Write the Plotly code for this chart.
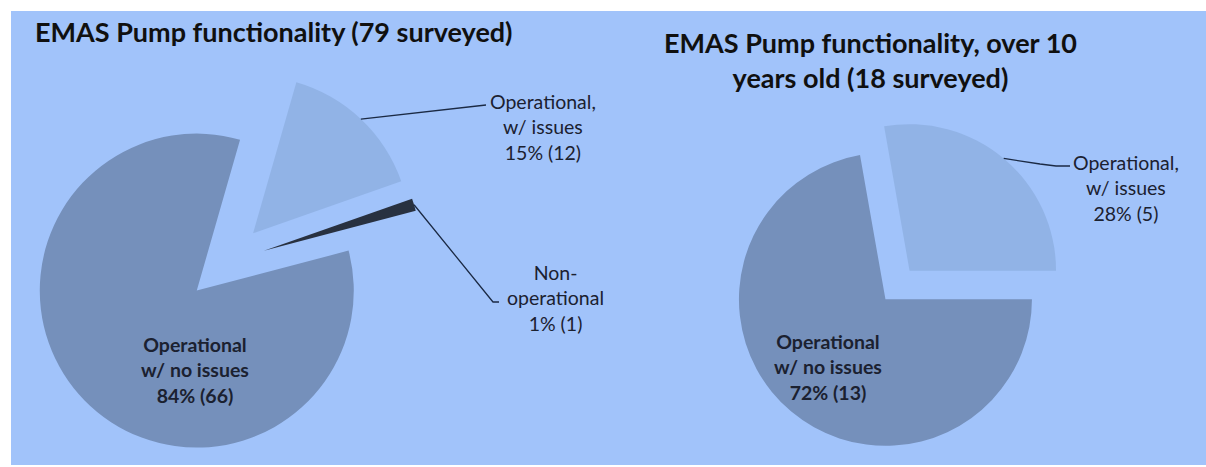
import math
import plotly.graph_objects as go

W, H = 1206, 467

# left chart - all pumps surveyed
left_title = "EMAS Pump functionality (79 surveyed)"
left_labels = ["Operational,<br>w/ issues", "Non-<br>operational", "Operational<br>w/ no issues"]
left_counts = [12, 1, 66]
left_colors = ["#91b3e6", "#283140", "#7590bb"]

# right chart - pumps over 10 years old
right_title = "EMAS Pump functionality, over 10<br>years old (18 surveyed)"
right_labels = ["Operational,<br>w/ issues", "Operational<br>w/ no issues"]
right_counts = [5, 13]
right_colors = ["#91b3e6", "#7590bb"]

BG = "#a1c3fa"
TXT = "#1b2130"
FONT = "Lato"

# pixel layout of each pie: centre, radius, explode fraction, start angle
left_geo = dict(cx=225.5, cy=262.5, r=157, pull=0.256, rot=16)
right_geo = dict(cx=897.5, cy=285, r=146.5, pull=0.128, rot=-10)


def domain_for(g):
    half = g["r"] * (1 + g["pull"])
    return dict(x=[(g["cx"] - half) / W, (g["cx"] + half) / W],
                y=[1 - (g["cy"] + half) / H, 1 - (g["cy"] - half) / H])


def arc_mid(g, counts, i):
    # point on the outer arc at the middle of slice i (pixels)
    total = sum(counts)
    frac = (sum(counts[:i]) + counts[i] / 2) / total
    a = math.radians(g["rot"] + 360 * frac)
    k = g["r"] * (1 + g["pull"])
    return g["cx"] + k * math.sin(a), g["cy"] - k * math.cos(a)


def px(x, y):
    return x / W, 1 - y / H


def label_text(lab, n, counts):
    pct = round(100 * n / sum(counts))
    return "%s<br>%d%% (%d)" % (lab, pct, n)


fig = go.Figure()
fig.add_trace(go.Pie(labels=left_labels, values=left_counts, sort=False,
                     direction="clockwise", rotation=left_geo["rot"],
                     pull=[left_geo["pull"]] * len(left_counts),
                     marker=dict(colors=left_colors, line=dict(width=0)),
                     textinfo="none", hoverinfo="none", domain=domain_for(left_geo)))
fig.add_trace(go.Pie(labels=right_labels, values=right_counts, sort=False,
                     direction="clockwise", rotation=right_geo["rot"],
                     pull=[right_geo["pull"]] * len(right_counts),
                     marker=dict(colors=right_colors, line=dict(width=0)),
                     textinfo="none", hoverinfo="none", domain=domain_for(right_geo)))

# white frame on the top, left and bottom edges of the picture
shapes = []
for x0, x1, y0, y1 in [(0, 1, 1 - 11 / H, 1), (0, 11 / W, 0, 1), (0, 1, 0, 1 - 465 / H)]:
    shapes.append(dict(type="rect", xref="paper", yref="paper", x0=x0, x1=x1, y0=y0, y1=y1,
                       fillcolor="white", line=dict(width=0), layer="below"))

# leader lines: from slice arc to the label (label-side points are layout)
leaders = [
    (arc_mid(left_geo, left_counts, 0), [(486, 105)]),
    (arc_mid(left_geo, left_counts, 1), [(493, 302), (499, 302)]),
    (arc_mid(right_geo, right_counts, 0), [(1040, 164), (1056, 166), (1070, 166)]),
]
for start, pts in leaders:
    path = "M %f,%f" % px(*start)
    for p in pts:
        path += " L %f,%f" % px(*p)
    shapes.append(dict(type="path", xref="paper", yref="paper", path=path,
                       line=dict(color="#1b2a44", width=1.3)))

annotations = [
    dict(text="<b>%s</b>" % left_title, x=33 / W, y=1 - 32 / H, xanchor="left", yanchor="middle",
         font=dict(size=27, color="#101010")),
    dict(text="<b>%s</b>" % right_title, x=870 / W, y=1 - 60 / H, xanchor="center", yanchor="middle",
         font=dict(size=27, color="#101010")),
    dict(text=label_text(left_labels[0], left_counts[0], left_counts), x=543 / W, y=1 - 127 / H,
         font=dict(size=19.5, color=TXT)),
    dict(text=label_text(left_labels[1], left_counts[1], left_counts), x=555 / W, y=1 - 298 / H,
         font=dict(size=19.5, color=TXT)),
    dict(text="<b>%s</b>" % label_text(left_labels[2], left_counts[2], left_counts), x=195 / W, y=1 - 370 / H,
         font=dict(size=19.5, color=TXT)),
    dict(text=label_text(right_labels[0], right_counts[0], right_counts), x=1126 / W, y=1 - 188 / H,
         font=dict(size=19.5, color=TXT)),
    dict(text="<b>%s</b>" % label_text(right_labels[1], right_counts[1], right_counts), x=828 / W, y=1 - 367 / H,
         font=dict(size=19.5, color=TXT)),
]
for a in annotations:
    a.update(xref="paper", yref="paper", showarrow=False)
    a.setdefault("xanchor", "center")
    a.setdefault("yanchor", "middle")

fig.update_layout(width=W, height=H, margin=dict(l=0, r=0, t=0, b=0),
                  paper_bgcolor=BG, showlegend=False,
                  font=dict(family=FONT, color=TXT),
                  shapes=shapes, annotations=annotations)

# drop the default page margin so the figure sits at the window corner
fig.write_html("out.html", config={"displayModeBar": False},
               post_script="document.body.style.margin='0';document.body.style.overflow='hidden';"
                           "document.documentElement.style.overflow='hidden';")
